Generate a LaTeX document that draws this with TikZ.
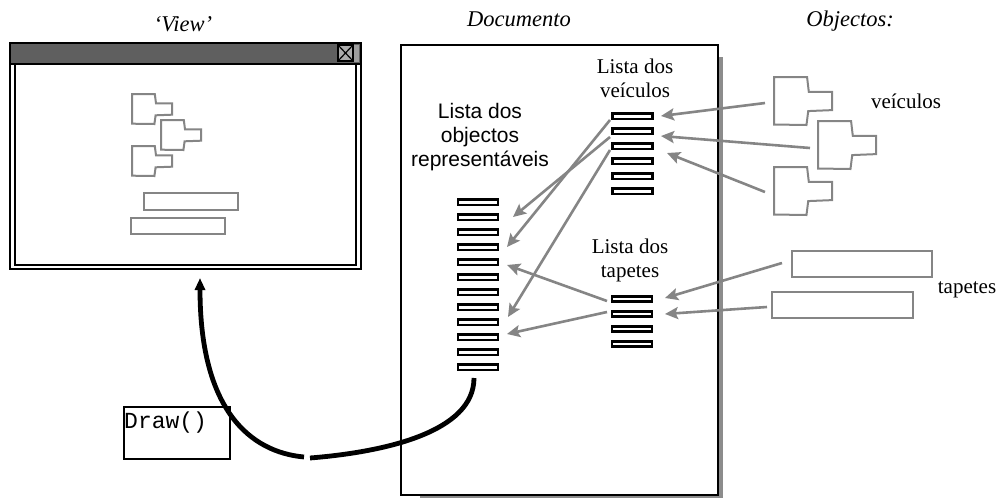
\documentclass[tikz,border=0pt]{standalone}
\usepackage{fontspec}
\setmainfont{Liberation Serif}
\setsansfont{Liberation Sans}
\setmonofont{Liberation Mono}
\usetikzlibrary{arrows.meta}

\definecolor{objgray}{HTML}{858585}
\definecolor{bargray}{HTML}{5F5F5F}
\definecolor{shadowgray}{HTML}{8C8C8C}

% outline of a vehicle object, drawn in a unit box
\newcommand\vehicleoutline{%
  (0,0) -- (0.57,0) -- (0.6,0.31) -- (1,0.31) -- (1,0.69) -- (0.59,0.71) -- (0.56,1) -- (0,0.99) -- cycle}

\begin{document}
\begin{tikzpicture}[x=1pt,y=-1pt,
  every node/.style={font=\fontsize{21}{24}\selectfont},
  listbox/.style={draw, line width=2.8pt, minimum width=40pt, minimum height=5.5pt, inner sep=0pt},
  objline/.style={draw=objgray, line width=2pt},
  objarrow/.style={draw=objgray, line width=2.6pt,
    -{Stealth[length=13pt,width=12pt,inset=2.5pt,fill=objgray]}},
  callline/.style={draw=black, line width=4.8pt},
  title/.style={font=\fontsize{22.5}{26}\selectfont\itshape, anchor=base},
  stack/.style={align=center, anchor=base}]
\useasboundingbox (0,0) rectangle (999,498);

% ---------- titles ----------
\node[title] (tview) at (183,31) {‘View’};
\node[title] (tdoc)  at (519,26) {Documento};
\node[title] (tobj)  at (850,26) {Objectos:};

% ---------- the view window ----------
\fill[white] (10,43) rectangle (361,269);
\draw[line width=2pt] (10,43) rectangle (361,269);
\draw[line width=2pt] (15,64) rectangle (356,265);
\draw[line width=2pt, fill=bargray] (10,43) rectangle (361,64);
\fill[objgray!80] (353,45) rectangle (359,62);
\draw[line width=1.8pt, fill=gray!65] (338,45) rectangle (353,61);
\draw[line width=1.2pt] (338,45) -- (353,61) (338,61) -- (353,45);

% objects shown in the view
\begin{scope}[shift={(132,94)}, xscale=40, yscale=30]
  \draw[objline] \vehicleoutline;
\end{scope}
\begin{scope}[shift={(161,120)}, xscale=40, yscale=30]
  \draw[objline] \vehicleoutline;
\end{scope}
\begin{scope}[shift={(132,146)}, xscale=40, yscale=30]
  \draw[objline] \vehicleoutline;
\end{scope}
\draw[objline] (144,193) rectangle (238,210);
\draw[objline] (131,218) rectangle (225,234);

% ---------- the document page ----------
\fill[shadowgray] (420,57) rectangle (723,498);
\draw[line width=2pt, fill=white] (401,45) rectangle (718,495);

% list of the vehicles
\node[stack] (lveic) at (635,97) {Lista dos\\veículos};
\foreach \k in {0,...,5}
  \node[listbox] (v\k) at (632.5,{116.3+15*\k}) {};

% list of the drawable objects
\node[stack, font=\sffamily\fontsize{21}{24}\selectfont] (lrep) at (480,166) {Lista dos\\objectos\\representáveis};
\foreach \k in {0,...,11}
  \node[listbox] (r\k) at (478,{202.3+15*\k}) {};

% list of the carpets
\node[stack] (ltap) at (630,277) {Lista dos\\tapetes};
\foreach \k in {0,...,3}
  \node[listbox] (t\k) at (632,{299+15*\k}) {};

% ---------- the objects ----------
\begin{scope}[shift={(774,77)}, xscale=58, yscale=48]
  \draw[objline] \vehicleoutline;
\end{scope}
\begin{scope}[shift={(818,121)}, xscale=58, yscale=48]
  \draw[objline] \vehicleoutline;
\end{scope}
\begin{scope}[shift={(774,167)}, xscale=58, yscale=48]
  \draw[objline] \vehicleoutline;
\end{scope}
\node[anchor=base] (nveic) at (906,108) {veículos};

\draw[objline] (792,251) rectangle (932,277);
\draw[objline] (772,292) rectangle (913,318);
\node[anchor=base] (ntap) at (967,293) {tapetes};

% connector ends
\coordinate (objA) at (765,103);
\coordinate (objB) at (810,148);
\coordinate (objC) at (765,192);
\coordinate (tapA) at (782,263);
\coordinate (tapB) at (767,307);

\coordinate (inV0) at (661,116);
\coordinate (inV1) at (661,136);
\coordinate (inV2) at (667,153);
\coordinate (inT0) at (665,298);
\coordinate (inT1) at (665,314);

\coordinate (outV0) at (610,120);
\coordinate (outV1) at (610,137);
\coordinate (outV2) at (610,150);
\coordinate (outT0) at (607,301);
\coordinate (outT1) at (607,312);

\coordinate (inR1) at (513,217);
\coordinate (inR3) at (507,247);
\coordinate (inR4) at (507,265);
\coordinate (inR8) at (508,317);
\coordinate (inR9) at (507,334);

% ---------- references ----------
\draw[objarrow] (objA) -- (inV0);
\draw[objarrow] (objB) -- (inV1);
\draw[objarrow] (objC) -- (inV2);
\draw[objarrow] (tapA) -- (inT0);
\draw[objarrow] (tapB) -- (inT1);

\draw[objarrow] (outV1) -- (inR1);
\draw[objarrow] (outV0) -- (inR3);
\draw[objarrow] (outV2) -- (inR8);
\draw[objarrow] (outT0) -- (inR4);
\draw[objarrow] (outT1) -- (inR9);

% ---------- the Draw() call ----------
\node[draw, line width=1.5pt, fill=white, anchor=north west, minimum width=106pt, minimum height=52pt, inner sep=0pt] (drawbox) at (123,406) {};
\node[anchor=base west, inner sep=0pt, font=\ttfamily\fontsize{23}{26}\selectfont] (drawtxt) at (124,428) {Draw()};

\coordinate (repend) at (474,378);
\coordinate (callmid) at (310,458);
\coordinate (callmid2) at (304,457);
\coordinate (viewin) at (200,278);

\draw[callline] (repend) .. controls (474,432) and (385,452) .. (callmid);
\draw[callline, -{Triangle[length=12pt,width=10pt]}] (callmid2) .. controls (250,452) and (200,410) .. (viewin);
\end{tikzpicture}
\end{document}
